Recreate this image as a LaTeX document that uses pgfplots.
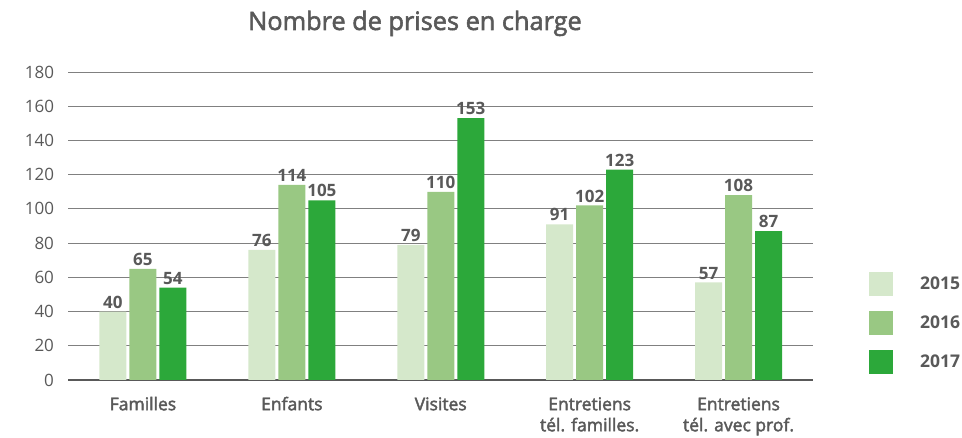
\documentclass[border=0pt]{standalone}
\usepackage{fontspec}
\setmainfont{Open Sans}
\newcommand\semb{\special{pdf:literal direct 2 Tr 0.4 w}}
\newcommand\nsemb{\special{pdf:literal direct 0 Tr}}
\newcommand\cat[1]{\semb\begin{tabular}{@{}c@{}}#1\end{tabular}\nsemb}
\usepackage{pgfplots}
\pgfplotsset{compat=1.18}
\definecolor{cA}{HTML}{D5E8CB}
\definecolor{cB}{HTML}{99C883}
\definecolor{cC}{HTML}{2CA83A}
\definecolor{txt}{HTML}{595959}
\definecolor{gridc}{HTML}{808080}
\begin{document}
\begin{tikzpicture}[x=1pt,y=1pt]
\begin{axis}[
  at={(68.5pt,58pt)}, anchor=south west,
  scale only axis, width=744.5pt, height=308pt,
  xmin=-0.5, xmax=4.5, ymin=0, ymax=180,
  ybar=3pt, bar width=27pt,
  xtick={0,...,4},
  xticklabels={{\cat{Familles}}, {\cat{Enfants}}, {\cat{Visites}}, {\cat{Entretiens\\tél. familles.}}, {\cat{Entretiens\\tél. avec prof.}}},
  ytick={0,20,...,180},
  /pgf/number format/assume math mode=true,
  major tick length=0pt,
  axis x line*=bottom, axis y line*=left,
  y axis line style={draw=none},
  x axis line style={draw=txt, line width=1.6pt},
  ymajorgrids, grid style={draw=gridc, line width=0.9pt},
  yticklabel style={font=\fontsize{17}{20}\selectfont, text=txt, xshift=-11pt},
  xticklabel style={font=\fontsize{17.5}{21}\selectfont, text=txt, anchor=north, yshift=-12pt},
  nodes near coords,
  every node near coord/.append style={font=\fontsize{17}{20}\selectfont\bfseries, text=txt, inner sep=3pt},
  legend style={at={(1.0752,0.3506)}, anchor=north west, draw=none, fill=none,
    font=\fontsize{17.5}{20}\selectfont\bfseries, text=txt, inner sep=0pt, row sep=15pt, column sep=27pt,
    nodes={inner sep=0pt}},
  legend cell align=left,
  legend image code/.code={\fill[#1] (0pt,-12pt) rectangle (24pt,12pt);},
]
\addplot[fill=cA, draw=none] coordinates {(0,40) (1,76) (2,79) (3,91) (4,57)};
\addplot[fill=cB, draw=none] coordinates {(0,65) (1,114) (2,110) (3,102) (4,108)};
\addplot[fill=cC, draw=none] coordinates {(0,54) (1,105) (2,153) (3,123) (4,87)};
\legend{2015,2016,2017}
\end{axis}
\node[anchor=base, text=txt, font=\fontsize{25.3}{28}\selectfont] at (415pt,408pt) {\special{pdf:literal direct 2 Tr 0.55 w}Nombre de prises en charge\nsemb};
\pgfresetboundingbox
\useasboundingbox (0,0) rectangle (962pt,438pt);
\end{tikzpicture}
\end{document}
